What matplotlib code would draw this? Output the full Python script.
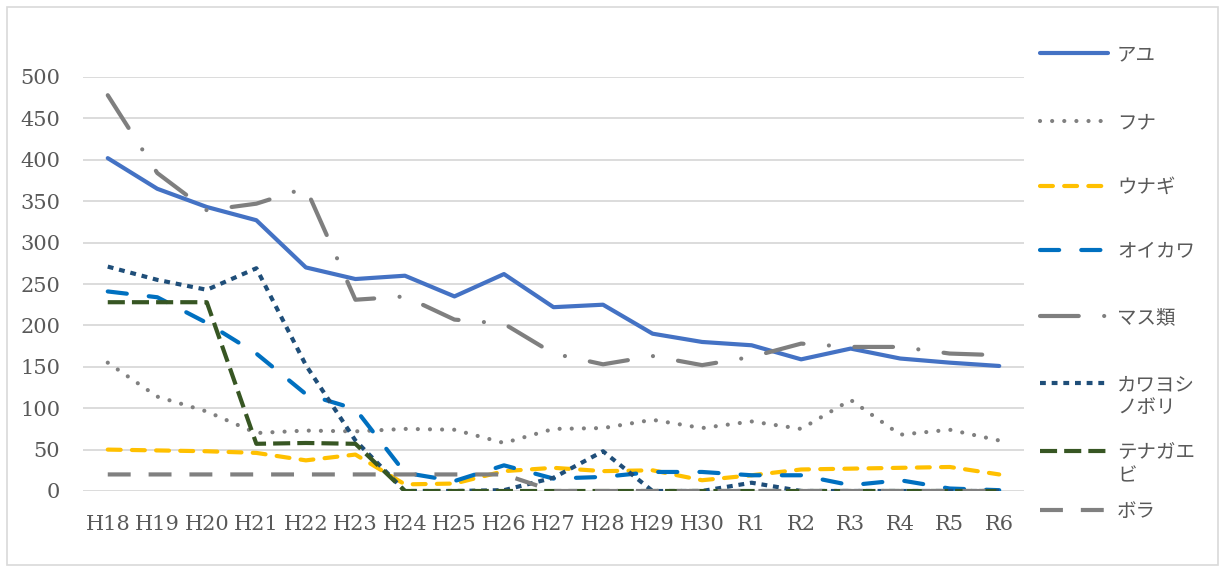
import matplotlib
matplotlib.use("Agg")
import matplotlib.pyplot as plt
from matplotlib.lines import Line2D
from matplotlib.patches import Rectangle

# 年度
years = ['H18', 'H19', 'H20', 'H21', 'H22', 'H23', 'H24', 'H25', 'H26', 'H27',
         'H28', 'H29', 'H30', 'R1', 'R2', 'R3', 'R4', 'R5', 'R6']

ayu = [402, 365, 343, 327, 270, 256, 260, 235, 262, 222, 225, 190, 180, 176, 159, 172, 160, 155, 151]
funa = [155, 114, 96, 70, 73, 72, 75, 74, 58, 75, 76, 86, 76, 84, 75, 110, 68, 74, 61]
unagi = [50, 49, 48, 46, 37, 44, 8, 9, 24, 28, 24, 25, 13, 19, 26, 27, 28, 29, 20]
oikawa = [241, 234, 203, 166, 117, 99, 22, 12, 31, 15, 17, 23, 23, 19, 19, 7, 13, 3, 1]
masu = [478, 384, 339, 347, 366, 231, 235, 207, 202, 166, 153, 163, 152, 162, 178, 174, 174, 166, 164]
kawayoshi = [271, 255, 243, 269, 152, 61, 0, 0, 1, 16, 48, 0, 0, 10, 0, 0, 0, 0, 0]
tenaga = [228, 228, 228, 57, 58, 57, 0, 0, 0, 0, 0, 0, 0, 0, 0, 0, 0, 0, 0]
bora = [20, 20, 20, 20, 20, 20, 20, 20, 20, 0, 0, 0, 0, 0, 0, 0, 0, 0, 0]

series = [
    ("アユ", ayu, dict(color="#4472C4", linestyle="-", solid_capstyle="round")),
    ("フナ", funa, dict(color="#808080", linestyle=(0, (0.01, 2.9)), dash_capstyle="round")),
    ("ウナギ", unagi, dict(color="#FFC000", linestyle=(0, (3.1, 2.7)), dash_capstyle="round")),
    ("オイカワ", oikawa, dict(color="#0070C0", linestyle=(0, (4.6, 5.3)), dash_capstyle="round")),
    ("マス類", masu, dict(color="#7F7F7F", linestyle=(0, (9.3, 6.1, 0.01, 6.1)), dash_capstyle="round")),
    ("カワヨシ\nノボリ", kawayoshi, dict(color="#1F4E79", linestyle=(0, (1.4, 1.4)), dash_capstyle="butt")),
    ("テナガエ\nビ", tenaga, dict(color="#375623", linestyle=(0, (4.1, 1.7)), dash_capstyle="butt")),
    ("ボラ", bora, dict(color="#808080", linestyle=(0, (5.5, 4.3)), dash_capstyle="butt")),
]

W, H = 1221, 569
fig = plt.figure(figsize=(W / 100, H / 100), dpi=100)

# 外枠
fig.add_artist(Rectangle((7 / W, 1 - 565 / H), (1218 - 7) / W, (565 - 7) / H,
                         transform=fig.transFigure, fill=False,
                         edgecolor="#D9D9D9", linewidth=1.2))

ax = fig.add_axes([83 / W, 1 - 491 / H, (1024 - 83) / W, (491 - 77) / H])

x = list(range(len(years)))
lw = 3.0
for name, vals, style in series:
    ax.plot(x, vals, linewidth=lw, **style)

ax.set_xlim(-0.5, len(years) - 0.5)
ax.set_ylim(0, 500)
ax.set_yticks(range(0, 501, 50))
ax.set_xticks(x)
ax.set_xticklabels(years)
ax.grid(axis="y", color="#D9D9D9", linewidth=1.3)
ax.set_axisbelow(True)
for s in ax.spines.values():
    s.set_visible(False)
ax.tick_params(axis="both", length=0, labelsize=15, labelcolor="#595959")
ax.tick_params(axis="x", pad=17)
ax.tick_params(axis="y", pad=16.5)
for lab in ax.get_xticklabels() + ax.get_yticklabels():
    lab.set_family("DejaVu Serif")

# 凡例 (手で配置)
leg_y = [53, 121, 186, 250, 316, 383, 451, 510]
for (name, vals, style), yy in zip(series, leg_y):
    fy = 1 - yy / H
    fig.add_artist(Line2D([1040 / W, 1108 / W], [fy, fy], transform=fig.transFigure,
                          linewidth=lw, **style))
    fig.text(1117 / W, fy + 9 / H, name, ha="left", va="top", fontsize=14,
             color="#595959", family=["Noto Sans CJK JP", "DejaVu Sans"],
             linespacing=1.15)

fig.savefig("out.png", dpi=100)
